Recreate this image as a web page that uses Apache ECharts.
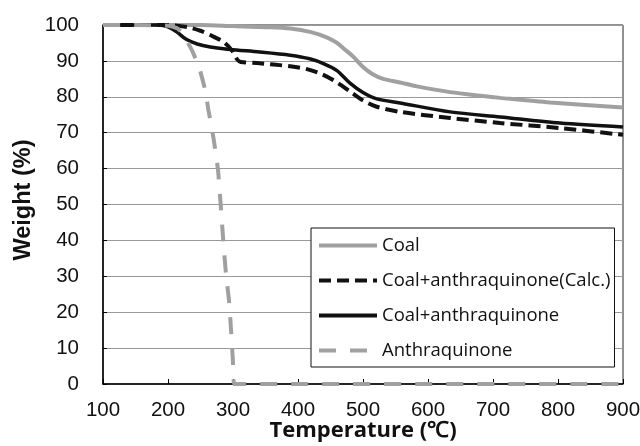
<!DOCTYPE html>
<html>
<head>
<meta charset="utf-8">
<style>html,body{margin:0;padding:0;background:#fff;}#c{width:640px;height:446px;}</style>
<script src="https://cdn.jsdelivr.net/npm/echarts@6/dist/echarts.min.js"></script>
</head>
<body>
<div id="c"></div>
<script>
const seriesNames = ['Coal', 'Coal+anthraquinone(Calc.)', 'Coal+anthraquinone', 'Anthraquinone'];
const xTicks = [100, 200, 300, 400, 500, 600, 700, 800, 900];
const yTicks = [0, 10, 20, 30, 40, 50, 60, 70, 80, 90, 100];

const coalT = [100, 250, 300, 350, 388, 420, 445, 460, 472, 485, 500, 515, 531, 557, 583, 634, 685, 711, 788, 900];
const coalW = [100, 100, 99.7, 99.4, 99, 98, 96.5, 95, 93.2, 91.2, 88.3, 86.3, 85, 84, 82.9, 81.3, 80.2, 79.7, 78.4, 77];

const calcT = [100, 150, 200, 230, 250, 265, 285, 298, 306, 312, 337, 388, 414, 438, 460, 480, 500, 520, 557, 634, 711, 803, 900];
const calcW = [100, 100, 100, 99.4, 98.4, 97.2, 95.3, 93, 90.5, 89.7, 89.4, 88.5, 87.7, 86.2, 84, 81.5, 79, 77.3, 75.8, 74.1, 72.7, 71.3, 69.4];

const mixT = [100, 150, 185, 200, 214, 228, 245, 265, 295, 341, 388, 418, 440, 460, 480, 500, 520, 557, 634, 711, 803, 900];
const mixW = [100, 100, 100, 99.5, 98, 96, 94.7, 93.9, 93.2, 92.5, 91.6, 90.6, 89.2, 87.3, 83.8, 81.2, 79.5, 78.3, 75.8, 74.4, 72.7, 71.6];

const aqT = [100, 150, 200, 215, 225, 238, 249, 257, 262, 270, 277, 281, 285, 289, 294, 297, 300, 302, 900];
const aqW = [100, 100, 99.8, 99, 97, 92.5, 87.5, 82, 76.5, 68.5, 59.5, 50, 40, 31, 23, 15, 6, 0, 0];

function pairs(xs, ys) { return xs.map((x, i) => [x, ys[i]]); }

const chart = echarts.init(document.getElementById('c'), null, {renderer: 'canvas'});
const gray = '#a0a0a0';
const black = '#111111';
const option = {
  animation: false,
  backgroundColor: '#fff',
  grid: {left: 103, right: 17, top: 25, bottom: 62, show: true, borderColor: '#222', borderWidth: 1,
         backgroundColor: '#fff', containLabel: false, outerBoundsMode: 'none'},
  xAxis: {
    type: 'value', min: xTicks[0], max: xTicks[xTicks.length - 1], interval: 100,
    axisLine: {lineStyle: {color: '#000', width: 1.5}},
    axisTick: {inside: true, length: 5, lineStyle: {color: '#000', width: 1}},
    splitLine: {show: false},
    axisLabel: {fontFamily: 'Liberation Sans', fontSize: 20.5, color: '#111', margin: 16},
    name: 'Temperature (\u2103)', nameLocation: 'middle', nameGap: 36, nameMoveOverlap: false,
    nameTextStyle: {fontFamily: 'Open Sans', fontWeight: 'bold', fontSize: 22, color: '#111'}
  },
  yAxis: {
    type: 'value', min: yTicks[0], max: yTicks[yTicks.length - 1], interval: 10,
    axisLine: {show: true, lineStyle: {color: '#000', width: 1.5}},
    axisTick: {show: true, inside: true, length: 4, lineStyle: {color: '#000', width: 1}},
    splitLine: {show: true, lineStyle: {color: '#9a9a9a', width: 1}},
    axisLabel: {fontFamily: 'Liberation Sans', fontSize: 20.5, color: '#111', margin: 24}
  },
  legend: {
    orient: 'vertical', left: 311, top: 228,
    padding: [8, 4, 7, 6], itemGap: 16, itemWidth: 58, itemHeight: 18,
    backgroundColor: '#fff', borderColor: '#111', borderWidth: 1,
    itemStyle: {opacity: 0},
    lineStyle: {width: 4},
    textStyle: {fontFamily: 'Open Sans', fontSize: 18.5, color: '#111', lineHeight: 18},
    data: seriesNames
  },
  graphic: [{
    type: 'text', x: 24, y: 200, rotation: Math.PI / 2,
    style: {text: 'Weight (%)', fontFamily: 'Liberation Sans', fontWeight: 'bold', fontSize: 23.5, fill: '#111', textAlign: 'center', textVerticalAlign: 'middle'}
  }],
  series: [
    {name: seriesNames[0], type: 'line', data: pairs(coalT, coalW), symbol: 'none', smooth: 0.3, clip: false,
     lineStyle: {color: gray, width: 4}, itemStyle: {color: gray}},
    {name: seriesNames[1], type: 'line', data: pairs(calcT, calcW), symbol: 'none', smooth: 0.3, clip: false,
     lineStyle: {color: black, width: 4, type: [12, 6]}, itemStyle: {color: black}},
    {name: seriesNames[2], type: 'line', data: pairs(mixT, mixW), symbol: 'none', smooth: 0.3, clip: false,
     lineStyle: {color: black, width: 3.5}, itemStyle: {color: black}},
    {name: seriesNames[3], type: 'line', data: pairs(aqT, aqW), symbol: 'none', smooth: 0.15, clip: false,
     lineStyle: {color: gray, width: 4, type: [17, 14]}, itemStyle: {color: gray}}
  ]
};
chart.setOption(option);
</script>
</body>
</html>
